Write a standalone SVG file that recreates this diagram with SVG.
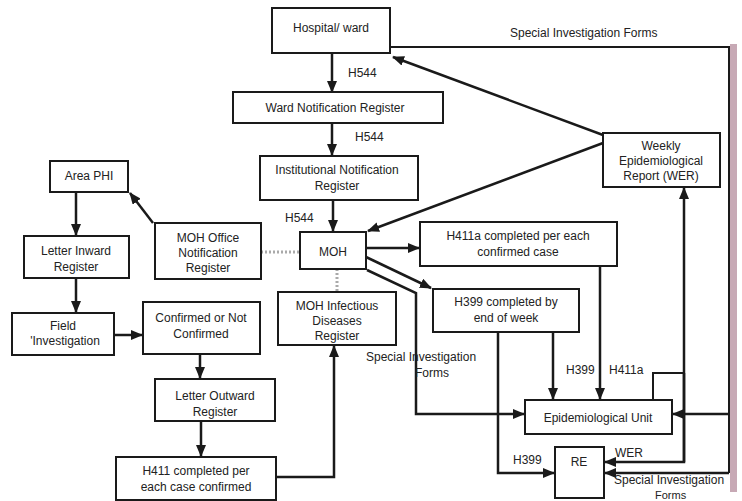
<svg xmlns="http://www.w3.org/2000/svg" width="742" height="501" viewBox="0 0 742 501">
<defs>
<marker id="ah" markerUnits="userSpaceOnUse" markerWidth="12" markerHeight="10" refX="11" refY="5" orient="auto">
<path d="M0,0 L12,5 L0,10 Z" fill="#1a1a1a"/>
</marker>
<style>
.box{fill:#fff;stroke:#1a1a1a;stroke-width:2}
.t{font-family:"Liberation Sans",Arial,sans-serif;font-size:12px;fill:#222;text-anchor:middle}
.l{font-family:"Liberation Sans",Arial,sans-serif;font-size:12px;fill:#222}
.c{fill:none;stroke:#1a1a1a;stroke-width:2}
.a{fill:none;stroke:#1a1a1a;stroke-width:2.5;marker-end:url(#ah)}
.d{fill:none;stroke:#aaa;stroke-width:3;stroke-dasharray:2 2}
</style>
</defs>
<rect width="742" height="501" fill="#fff"/>
<rect x="730" y="44" width="7" height="448" fill="#b48c9c" opacity="0.75"/>

<g id="connectors">
<path class="a" d="M332,53 V92"/>
<path class="a" d="M332,123 V155"/>
<path class="a" d="M333,200 V231"/>
<path class="c" d="M390,47 H729 V473"/>
<path class="a" d="M729,414 H673"/>
<path class="a" d="M729,473 H605"/>
<path class="a" d="M603,135 L393,57"/>
<path class="a" d="M603,143 L368,231"/>
<path class="a" d="M366,248 H419"/>
<path class="a" d="M366,257 L431,288"/>
<path class="a" d="M367,270 L416,293 V414 H524"/>
<path class="a" d="M153,223 L130,193"/>
<path class="d" d="M261,252 H300"/>
<path class="d" d="M337,269 V292"/>
<path class="a" d="M76,192 V235"/>
<path class="a" d="M76,278 V312"/>
<path class="a" d="M114,335 H142"/>
<path class="a" d="M200,354 V378"/>
<path class="a" d="M201,421 V456"/>
<path class="a" d="M276,477 H334 V346"/>
<path class="a" d="M600,266 V399"/>
<path class="a" d="M553,332 V399"/>
<path class="a" d="M498,332 V473 H554"/>
<path class="c" d="M653,400 V373 H684"/>
<path class="a" d="M684,462 V188"/>
<path class="a" d="M684,373 V462 H605"/>
</g>

<g id="labels">
<text class="l" x="348" y="77">H544</text>
<text class="l" x="355" y="141">H544</text>
<text class="l" x="285" y="222">H544</text>
<text class="l" x="510" y="37">Special Investigation Forms</text>
<text class="l" x="366" y="361">Special Investigation</text>
<text class="t" x="432" y="377">Forms</text>
<text class="l" x="566" y="374">H399</text>
<text class="l" x="609" y="374">H411a</text>
<text class="l" x="513" y="464">H399</text>
<text class="l" x="615" y="457">WER</text>
<text class="l" x="614" y="484">Special Investigation</text>
<text class="l" x="655" y="498.5" style="font-size:11px">Forms</text>
</g>

<g id="hospital"><rect class="box" x="272" y="8" width="118" height="45"/><text class="t" x="331" y="32">Hospital/ ward</text></g>
<g id="ward"><rect class="box" x="233" y="92" width="210" height="31"/><text class="t" x="335" y="112">Ward Notification Register</text></g>
<g id="institutional"><rect class="box" x="260" y="156" width="158" height="44"/><text class="t" x="337" y="174">Institutional Notification</text><text class="t" x="337" y="190">Register</text></g>
<g id="moh"><rect class="box" x="300" y="232" width="66" height="37"/><text class="t" x="333" y="256">MOH</text></g>
<g id="h411a"><rect class="box" x="420" y="222" width="197" height="44"/><text class="t" x="518" y="240">H411a completed per each</text><text class="t" x="518" y="256">confirmed case</text></g>
<g id="h399"><rect class="box" x="433" y="289" width="146" height="43"/><text class="t" x="506" y="306">H399 completed by</text><text class="t" x="506" y="322">end of week</text></g>
<g id="wer"><rect class="box" x="603" y="133" width="117" height="54"/><text class="t" x="661" y="150">Weekly</text><text class="t" x="661" y="165">Epidemiological</text><text class="t" x="661" y="180">Report (WER)</text></g>
<g id="epi"><rect class="box" x="525" y="400" width="147" height="34"/><text class="t" x="598" y="422">Epidemiological Unit</text></g>
<g id="re"><rect class="box" x="555" y="447" width="49" height="51"/><text class="t" x="579" y="466">RE</text></g>
<g id="moh-infectious"><rect class="box" x="278" y="292" width="118" height="53"/><text class="t" x="337" y="310">MOH Infectious</text><text class="t" x="337" y="325">Diseases</text><text class="t" x="337" y="340">Register</text></g>
<g id="moh-office"><rect class="box" x="155" y="223" width="106" height="56"/><text class="t" x="208" y="242">MOH Office</text><text class="t" x="208" y="257">Notification</text><text class="t" x="208" y="272">Register</text></g>
<g id="area-phi"><rect class="box" x="50" y="161" width="78" height="31"/><text class="t" x="89" y="180">Area PHI</text></g>
<g id="letter-inward"><rect class="box" x="24" y="236" width="105" height="42"/><text class="t" x="76" y="255">Letter Inward</text><text class="t" x="76" y="271">Register</text></g>
<g id="field"><rect class="box" x="12" y="313" width="102" height="42"/><text class="t" x="63" y="330">Field</text><text class="t" x="65" y="345">'Investigation</text></g>
<g id="confirmed"><rect class="box" x="143" y="302" width="117" height="52"/><text class="t" x="201" y="322">Confirmed or Not</text><text class="t" x="201" y="338">Confirmed</text></g>
<g id="letter-outward"><rect class="box" x="155" y="379" width="120" height="42"/><text class="t" x="215" y="400">Letter Outward</text><text class="t" x="215" y="416">Register</text></g>
<g id="h411"><rect class="box" x="116" y="457" width="160" height="43"/><text class="t" x="196" y="475">H411 completed per</text><text class="t" x="196" y="491">each case confirmed</text></g>
</svg>
